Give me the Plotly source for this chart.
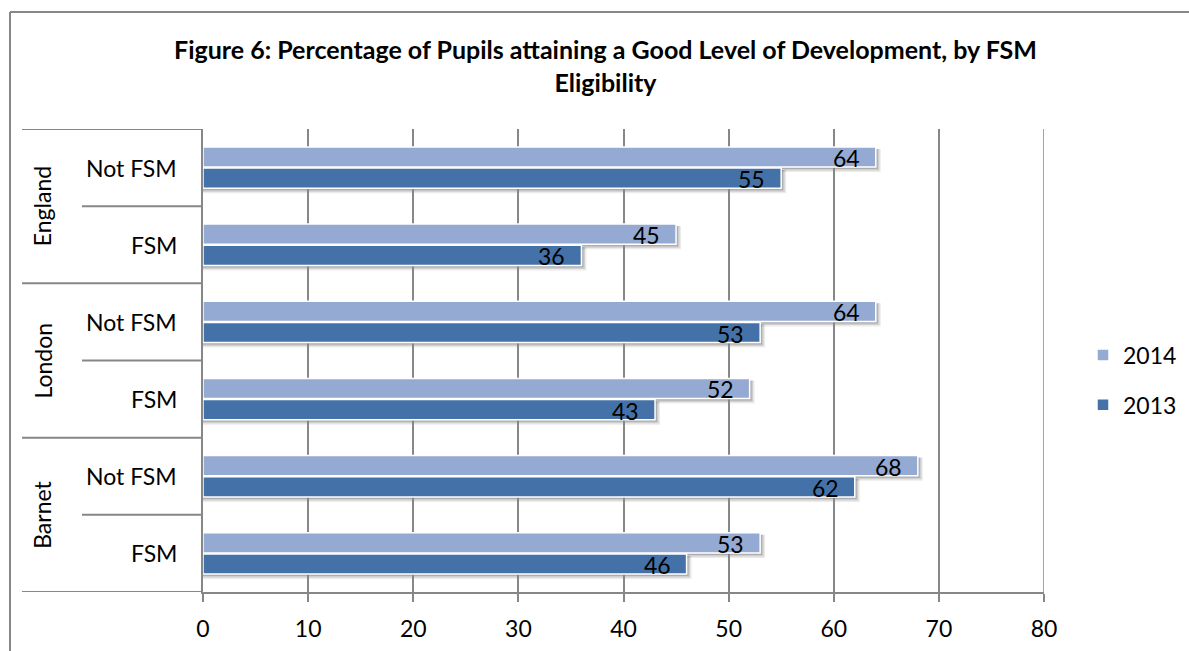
import plotly.graph_objects as go

# Chart data
regions = ["England", "London", "Barnet"]
groups = ["Not FSM", "FSM"]
years = ["2014", "2013"]
values_2014 = [64, 45, 64, 52, 68, 53]
values_2013 = [55, 36, 53, 43, 62, 46]
x_ticks = [0, 10, 20, 30, 40, 50, 60, 70, 80]

colors = {"2014": "#94AAD2", "2013": "#4472A8"}
grey = "#878787"
font_family = "Lato, 'Open Sans', sans-serif"
FS = 23

W, H = 1189, 651
L, R, T, B = 203, 1044, 129, 592  # plot area edges in pixels
X_MAX = 80
N_ROWS = 6


def px_x(px):
    return (px - L) / (R - L)


def px_y(py):
    return (B - py) / (B - T)


# pixel -> data unit helpers
ux = X_MAX / (R - L)
uy = N_ROWS / (B - T)

rows = [(r, g) for r in regions for g in groups]
ypos = list(range(len(rows)))

BARGAP = 0.45
GROUPGAP = 0.05
slot = (1 - BARGAP) / 2
bar_h = slot * (1 - GROUPGAP)

fig = go.Figure()
for name, vals in [("2014", values_2014), ("2013", values_2013)]:
    fig.add_trace(go.Bar(
        y=ypos, x=vals, name=name, orientation="h",
        marker=dict(color=colors[name], line=dict(color="white", width=1.5)),
        legendgroup=name,
    ))

annotations = []
shapes = []
for k, vals in enumerate([values_2014, values_2013]):
    off = (k - 0.5) * slot
    for i, v in enumerate(vals):
        c = i + off
        # value label at the inner end of the bar
        annotations.append(dict(
            x=v, y=c, xref="x", yref="y", text=str(v), showarrow=False,
            xanchor="right", yanchor="middle", xshift=-14, yshift=-1,
            font=dict(size=FS, color="black", family=font_family),
        ))
        # soft drop shadow under the bar
        for d, op in [(5, 0.08), (3.5, 0.12), (2, 0.16)]:
            shapes.append(dict(
                type="rect", xref="x", yref="y", layer="below",
                x0=0, x1=v + d * ux, y0=c - bar_h / 2 + 2 * uy, y1=c + bar_h / 2 + d * uy,
                fillcolor=f"rgba(0,0,0,{op})", line=dict(width=0),
            ))

# sub-category labels
for i, (r, g) in enumerate(rows):
    annotations.append(dict(
        x=px_x(179), y=i, xref="paper", yref="y", text=g, showarrow=False,
        xanchor="right", yanchor="middle",
        font=dict(size=FS, color="black", family=font_family),
    ))

# region labels (rotated)
for j, r in enumerate(regions):
    annotations.append(dict(
        x=px_x(42), y=2 * j + 0.5, xref="paper", yref="y", text=r, showarrow=False,
        textangle=-90, xanchor="center", yanchor="middle",
        font=dict(size=FS, color="black", family=font_family),
    ))

# chart title
annotations.append(dict(
    x=px_x(605), y=px_y(66), xref="paper", yref="paper",
    text="<b>Figure 6: Percentage of Pupils attaining a Good Level of Development, by FSM<br>Eligibility</b>",
    showarrow=False, xanchor="center", yanchor="middle", align="center",
    font=dict(size=25, color="black", family=font_family),
))

# region separators
for b in [-0.5, 1.5, 3.5, 5.5]:
    shapes.append(dict(type="line", xref="paper", yref="y", x0=px_x(22), x1=0,
                       y0=b, y1=b, line=dict(color=grey, width=2)))
# sub-category separators
for b in [0.5, 2.5, 4.5]:
    shapes.append(dict(type="line", xref="paper", yref="y", x0=px_x(82), x1=0,
                       y0=b, y1=b, line=dict(color=grey, width=2)))
# gridline at the right end of the value axis
shapes.append(dict(type="line", xref="x", yref="paper", x0=X_MAX, x1=X_MAX,
                   y0=0, y1=1, layer="below", line=dict(color=grey, width=1.5)))
# outer chart border
shapes.append(dict(type="line", xref="paper", yref="paper", x0=px_x(10), x1=px_x(10),
                   y0=px_y(12), y1=px_y(H + 5), line=dict(color=grey, width=2)))
shapes.append(dict(type="line", xref="paper", yref="paper", x0=px_x(10), x1=px_x(W + 5),
                   y0=px_y(12), y1=px_y(12), line=dict(color=grey, width=2)))

fig.update_layout(
    width=W, height=H,
    margin=dict(l=L, r=W - R, t=T, b=H - B, autoexpand=False),
    paper_bgcolor="white", plot_bgcolor="white",
    barmode="group", bargap=BARGAP, bargroupgap=GROUPGAP,
    font=dict(family=font_family, size=FS, color="black"),
    xaxis=dict(range=[0, X_MAX], tickvals=x_ticks, showgrid=True, gridcolor=grey, gridwidth=1.5,
               showline=True, linecolor=grey, linewidth=2, mirror=False,
               ticks="outside", ticklen=8, tickcolor=grey, tickwidth=2,
               ticklabelstandoff=7, zeroline=False,
               tickfont=dict(size=FS, color="black")),
    yaxis=dict(range=[N_ROWS - 0.5, -0.5], showticklabels=False, showgrid=False, zeroline=False,
               showline=True, linecolor=grey, linewidth=2, ticks=""),
    legend=dict(x=px_x(1083), y=px_y(380), xanchor="left", yanchor="middle",
                traceorder="grouped", tracegroupgap=17,
                font=dict(size=FS, color="black"), bgcolor="rgba(0,0,0,0)"),
    annotations=annotations, shapes=shapes,
)

fig.write_html("out.html")
